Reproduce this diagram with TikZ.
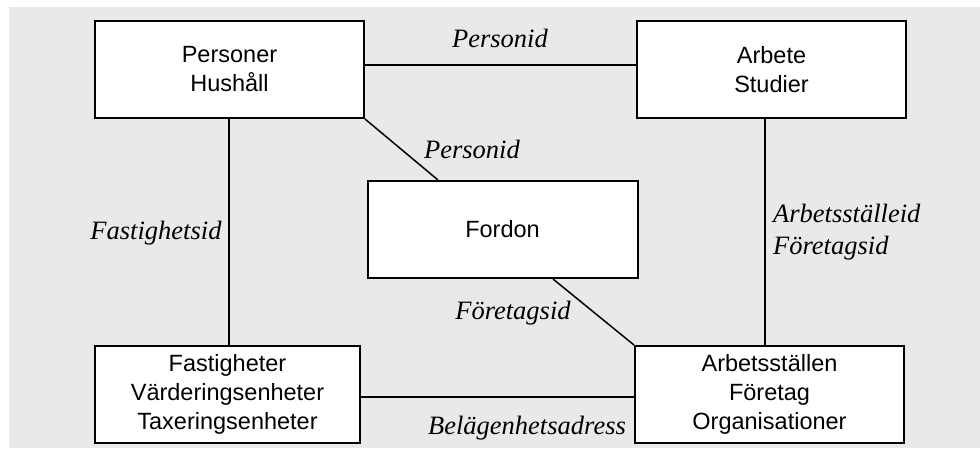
\documentclass[tikz,border=0pt]{standalone}
\usepackage{fontspec}
\setmainfont{Liberation Serif}
\setsansfont{Liberation Sans}
\definecolor{panel}{HTML}{E9E9E9}
\begin{document}
\begin{tikzpicture}[x=1pt,y=-1pt,
  entity/.style={draw, fill=white, line width=2pt, inner sep=0pt,
    minimum width=269pt, minimum height=97pt, align=center,
    font=\sffamily\fontsize{23.5}{29}\selectfont},
  key/.style={inner sep=0pt, align=left,
    font=\itshape\fontsize{26.5}{32}\selectfont},
  link/.style={line width=1.5pt}]
  % page and grey panel
  \useasboundingbox (0,0) rectangle (980,448);
  \fill[panel] (9,7) rectangle (980,448);

  % entities
  \node[entity] (pers) at (229.5,69.5) {Personer\\Hushåll};
  \node[entity] (arb)  at (771.5,69.5) {Arbete\\Studier};
  \node[entity, minimum width=270pt] (ford) at (502.5,229.5) {Fordon};
  \node[entity, minimum width=265pt] (fast) at (227.5,394.5)
    {Fastigheter\\Värderingsenheter\\Taxeringsenheter};
  \node[entity] (arbst) at (769.5,394.5)
    {Arbetsställen\\Företag\\Organisationer};

  % links between the registers
  \draw[link] ([yshift=4.5pt]pers.east) -- ([yshift=4.5pt]arb.west);
  \draw[link] ([xshift=-0.5pt]pers.south) -- ([xshift=-0.5pt]pers.south |- fast.north);
  \draw[link] ([xshift=-6.5pt]arb.south) -- ([xshift=-6.5pt]arb.south |- arbst.north);
  \draw[link] (pers.south east) -- ([xshift=-64.5pt]ford.north);
  \draw[link] ([xshift=50.5pt]ford.south) -- (arbst.north west);
  \draw[link] ([yshift=-2.5pt]fast.east) -- ([yshift=-2.5pt]fast.east -| arbst.west);

  % key labels
  \node[key] (k1) at (500,38) {Personid};
  \node[key] (k2) at (472,149) {Personid};
  \node[key] (k3) at (156,233) {Fastighetsid};
  \node[key, anchor=west] (k4) at (773,232) {Arbetsställeid\\Företagsid};
  \node[key] (k5) at (513,313) {Företagsid};
  \node[key] (k6) at (527,428) {Belägenhetsadress};
\end{tikzpicture}
\end{document}
